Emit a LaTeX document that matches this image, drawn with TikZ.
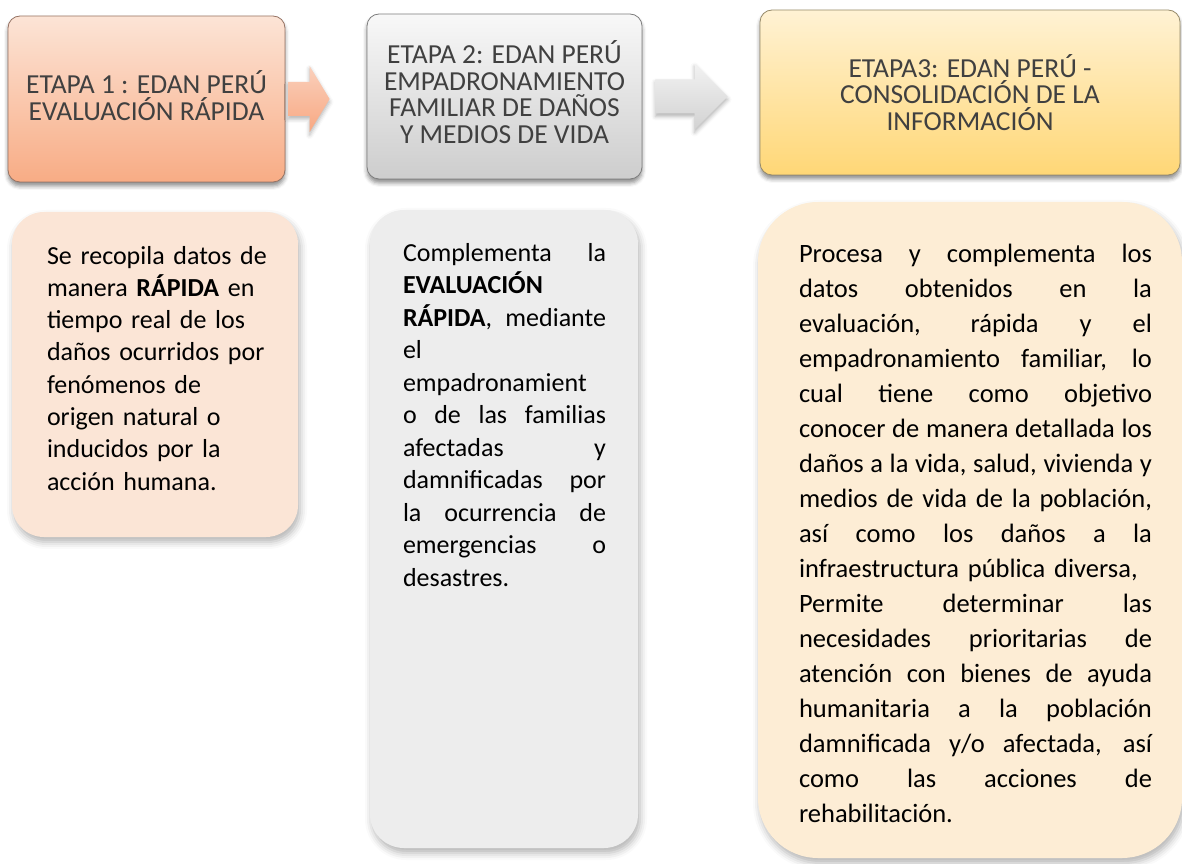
\documentclass[tikz,border=0pt]{standalone}
\usepackage{fontspec}
\setmainfont{Carlito}
\usepackage{tikz}
\usetikzlibrary{positioning,calc,shadows,shadows.blur}
\usepackage{xcolor}

\definecolor{sonetop}{RGB}{252,228,214}
\definecolor{sonebot}{RGB}{248,172,133}
\definecolor{stwotop}{RGB}{248,248,248}
\definecolor{stwobot}{RGB}{205,205,205}
\definecolor{sthreetop}{RGB}{255,242,212}
\definecolor{sthreebot}{RGB}{255,215,118}
\definecolor{aonetop}{RGB}{250,208,188}
\definecolor{aonebot}{RGB}{248,168,130}
\definecolor{atwotop}{RGB}{242,242,242}
\definecolor{atwobot}{RGB}{210,210,210}
\definecolor{donefill}{RGB}{251,229,214}
\definecolor{dtwofill}{RGB}{237,237,237}
\definecolor{dthreefill}{RGB}{253,237,213}
\definecolor{headtext}{RGB}{64,64,64}
\definecolor{soneline}{RGB}{150,115,100}
\definecolor{stwoline}{RGB}{125,125,125}
\definecolor{sthreeline}{RGB}{150,138,105}

\newcommand{\headfont}{\fontsize{27.5}{26.5}\selectfont}
\newcommand{\lift}[1]{\rule[-#1]{0pt}{#1}}
\newcommand{\jl}[1]{\makebox[\hsize][s]{\spaceskip=0pt\xspaceskip=0pt\relax #1}}
\newcommand{\stagearrow}[6]{%
  \path[#1] let \p1=($(#2.east)+(#4,0)$), \p2=($(#3.west)-(#5,0)$) in
    (\x1,\y1+17pt) -- (\x2-#6pt,\y1+17pt) -- (\x2-#6pt,\y1+33pt) -- (\x2,\y1)
    -- (\x2-#6pt,\y1-33pt) -- (\x2-#6pt,\y1-17pt) -- (\x1,\y1-17pt) -- cycle;}

\begin{document}
\begin{tikzpicture}[
  x=1pt,y=1pt,
  stage/.style={draw,line width=0.8pt,rounded corners=12pt,align=center,
    font=\headfont,text=headtext,
    blur shadow={shadow xshift=0pt,shadow yshift=-4pt,shadow blur radius=4pt,shadow opacity=45}},
  card/.style={rounded corners=34pt,inner sep=0pt,
    blur shadow={shadow xshift=2pt,shadow yshift=-5pt,shadow blur radius=7pt,shadow opacity=30}},
  desc/.style={inner sep=0pt,align=left,anchor=north west},
  arrowshape/.style={blur shadow={shadow xshift=0pt,shadow yshift=-3pt,shadow blur radius=4pt,shadow opacity=30}}
]
\useasboundingbox (0,0) rectangle (1182,863);

\node[stage,draw=soneline,top color=sonetop,bottom color=sonebot,
  minimum width=277pt,minimum height=166pt] (s1) at (146.5,764)
  {ETAPA 1 : EDAN PERÚ\\EVALUACIÓN RÁPIDA\lift{7pt}};
\node[stage,draw=stwoline,top color=stwotop,bottom color=stwobot,
  minimum width=275pt,minimum height=165pt] (s2) at (504.5,766.5)
  {ETAPA 2: EDAN PERÚ\\EMPADRONAMIENTO\\FAMILIAR DE DAÑOS\\Y MEDIOS DE VIDA\lift{9pt}};
\node[stage,draw=sthreeline,top color=sthreetop,bottom color=sthreebot,
  minimum width=420pt,minimum height=165pt] (s3) at (970,770.5)
  {ETAPA3: EDAN PERÚ -\\CONSOLIDACIÓN DE LA\\INFORMACIÓN};

\stagearrow{arrowshape,top color=aonetop,bottom color=aonebot}{s1}{s2}{3}{37}{20}
\stagearrow{arrowshape,top color=atwotop,bottom color=atwobot}{s2}{s3}{13}{32}{33}

\node[card,fill=donefill,minimum width=286pt,minimum height=325pt,rounded corners=32pt] (d1) at (155,488.5) {};
\node[card,fill=dtwofill,minimum width=268pt,minimum height=638pt] (d2) at (504,334) {};
\node[card,fill=dthreefill,minimum width=424pt,minimum height=656pt,rounded corners=60pt] (d3) at (970,333) {};

\node[desc,text width=262pt,font=\fontsize{26}{32.3}\selectfont,
  below right=34pt and 35pt of d1.north west] (t1)
  {Se recopila datos de\\manera \textbf{RÁPIDA} en\\tiempo real de los\\daños ocurridos por\\fenómenos de\\origen natural o\\inducidos por la\\acción humana.};
\node[desc,text width=203pt,font=\fontsize{26}{32.5}\selectfont,
  below right=33pt and 33pt of d2.north west] (t2)
  {\jl{Complementa la}\\\textbf{EVALUACIÓN}\\\jl{\textbf{RÁPIDA}, mediante}\\el\\empadronamient\\\jl{o de las familias}\\\jl{afectadas y}\\\jl{damnificadas por}\\\jl{la ocurrencia de}\\\jl{emergencias o}\\desastres.};
\node[desc,text width=353pt,font=\fontsize{26.5}{35}\selectfont,
  below right=42pt and 41pt of d3.north west] (t3)
  {\jl{Procesa y complementa los}\\\jl{datos obtenidos en la}\\\jl{evaluación, rápida y el}\\\jl{empadronamiento familiar, lo}\\\jl{cual tiene como objetivo}\\\jl{conocer de manera detallada los}\\\jl{daños a la vida, salud, vivienda y}\\\jl{medios de vida de la población,}\\\jl{así como los daños a la}\\infraestructura pública diversa,\\\jl{Permite determinar las}\\\jl{necesidades prioritarias de}\\\jl{atención con bienes de ayuda}\\\jl{humanitaria a la población}\\\jl{damnificada y/o afectada, así}\\\jl{como las acciones de}\\rehabilitación.};
\end{tikzpicture}
\end{document}
